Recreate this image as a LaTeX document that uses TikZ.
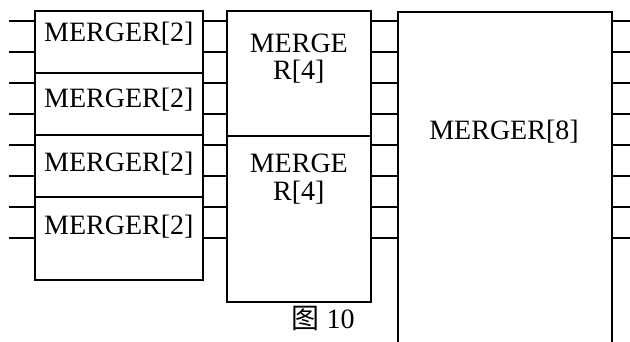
\documentclass[tikz,border=0pt]{standalone}
\usepackage{fontspec}
\setmainfont{Liberation Serif}
\newfontfamily\cjk{Noto Sans CJK SC}
\usetikzlibrary{calc}
\begin{document}
\begin{tikzpicture}[x=1pt,y=-1pt,
  box/.style={draw,line width=1.7pt,inner sep=0pt,anchor=north west},
  lbl/.style={font=\fontsize{28}{29}\selectfont,inner sep=0pt,align=center},
  wire/.style={line width=1.5pt}]
\useasboundingbox (0,0) rectangle (630,342);
% left column
\node[box,minimum width=168pt,minimum height=62pt] (a1) at (34,10) {};
\node[box,minimum width=168pt,minimum height=62pt] (a2) at (34,72) {};
\node[box,minimum width=168pt,minimum height=62pt] (a3) at (34,134) {};
\node[box,minimum width=168pt,minimum height=83pt] (a4) at (34,196) {};
% middle column
\node[box,minimum width=144pt,minimum height=125pt] (b1) at (226,10) {};
\node[box,minimum width=144pt,minimum height=166pt] (b2) at (226,135) {};
% right box
\node[box,minimum width=214pt,minimum height=340pt] (c1) at (397,11) {};
% labels
\node[lbl] (ta1) at ($(a1.north)+(0,24)$) {MERGER[2]};
\node[lbl] (ta2) at ($(a2.north)+(0,28)$) {MERGER[2]};
\node[lbl] (ta3) at ($(a3.north)+(0,30)$) {MERGER[2]};
\node[lbl] (ta4) at ($(a4.north)+(0,31)$) {MERGER[2]};
\node[lbl] (tb1) at ($(b1.north)+(0,33)$) {MERGE};
\node[lbl] (tb1b) at ($(b1.north)+(0,62)$) {R[4]};
\node[lbl] (tb2) at ($(b2.north)+(0,28)$) {MERGE};
\node[lbl] (tb2b) at ($(b2.north)+(0,58)$) {R[4]};
\node[lbl] (tc1) at (504,132) {MERGER[8]};
\node[lbl] (cap) at (323,318) {{\cjk 图} 10};
% wires
\foreach \i/\y/\L/\M in {0/21/a1/b1,1/52/a1/b1,2/83/a2/b1,3/114/a2/b1,4/145/a3/b2,5/176/a3/b2,6/207/a4/b2,7/238/a4/b2}{
  \coordinate (in\i) at (9,\y);
  \coordinate (out\i) at (630,\y);
  \draw[wire] (in\i) -- (in\i -| \L.west);
  \draw[wire] (in\i -| \L.east) -- (in\i -| \M.west);
  \draw[wire] (in\i -| \M.east) -- (in\i -| c1.west);
  \draw[wire] (in\i -| c1.east) -- (out\i);
}
\end{tikzpicture}
\end{document}
